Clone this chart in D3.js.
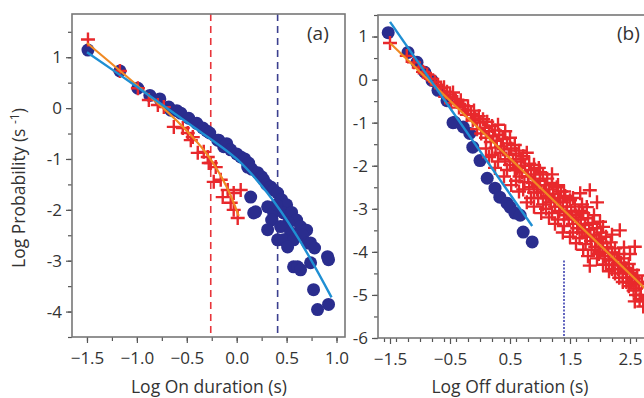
<!DOCTYPE html>
<html>
<head>
<meta charset="utf-8">
<script src="https://cdn.jsdelivr.net/npm/d3@7"></script>
<style>
  body { margin: 0; background: #fff; }
  text { font-family: "Open Sans", sans-serif; fill: #333; }
</style>
</head>
<body>
<div id="chart"></div>
<script>
// ---- panel (a): On durations ----
const onBlue = [
  [-1.49, 1.14], [-1.17, 0.73], [-0.99, 0.39], [-0.87, 0.25], [-0.77, 0.18], [-0.68, 0.02],
  [-0.66, -0.04], [-0.60, -0.05], [-0.56, -0.10], [-0.48, -0.20], [-0.40, -0.30], [-0.34, -0.39],
  [-0.30, -0.45], [-0.27, -0.49], [-0.19, -0.63], [-0.18, -0.63], [-0.13, -0.76], [-0.10, -0.70],
  [-0.06, -0.82], [0.00, -0.90], [0.04, -0.96], [0.08, -1.00], [0.11, -1.16], [0.12, -1.08],
  [0.15, -1.20], [0.21, -1.27], [0.25, -1.35], [0.27, -1.41], [0.30, -1.50], [0.34, -1.55],
  [0.37, -1.61], [0.41, -1.67], [0.45, -1.80], [0.50, -1.90], [0.14, -1.75], [0.17, -2.06],
  [0.19, -2.04], [0.31, -1.94], [0.37, -2.06], [0.47, -2.06], [0.40, -1.90], [0.35, -2.20],
  [0.55, -2.05], [0.60, -2.20], [0.52, -2.25], [0.31, -2.39], [0.44, -2.33], [0.64, -2.33],
  [0.54, -2.45], [0.70, -2.40], [0.41, -2.59], [0.47, -2.59], [0.57, -2.59], [0.66, -2.50],
  [0.71, -2.65], [0.74, -2.65], [0.51, -2.73], [0.78, -2.75], [0.91, -2.92], [0.92, -2.98],
  [0.57, -3.12], [0.61, -3.12], [0.64, -3.18], [0.74, -3.04], [0.77, -3.57], [0.81, -3.96],
  [0.92, -3.86]
];
const onRed = [
  [-1.49, 1.35], [-1.17, 0.73], [-0.99, 0.39], [-0.88, 0.16], [-0.79, 0.06], [-0.73, 0.02],
  [-0.63, -0.37], [-0.54, -0.39], [-0.49, -0.49], [-0.46, -0.63], [-0.44, -0.57], [-0.39, -0.88],
  [-0.33, -0.86], [-0.29, -0.96], [-0.28, -1.08], [-0.26, -1.08], [-0.23, -1.45], [-0.21, -1.16],
  [-0.16, -1.41], [-0.14, -1.75], [-0.09, -1.61], [-0.06, -1.86], [-0.03, -1.67], [-0.03, -2.00],
  [0.04, -1.61], [0.01, -2.16]
];
const onBlueFit = [[-1.50, 1.10], [-1.00, 0.42], [-0.50, -0.28], [0.00, -1.00], [0.30, -1.65], [0.60, -2.50], [0.95, -3.72]];
const onRedFit = [[-1.50, 1.28], [-1.00, 0.45], [-0.60, -0.25], [-0.30, -0.90], [-0.10, -1.55], [0.02, -2.12]];
const onRedCut = -0.26;   // dashed red threshold
const onBlueCut = 0.41;   // dashed blue threshold

// ---- panel (b): Off durations ----
const offBlue = [
  [-1.53, 1.09], [-1.20, 0.63], [-1.05, 0.40], [-0.92, 0.17], [-0.80, -0.02], [-0.70, -0.25],
  [-0.55, -0.49], [-0.45, -1.00], [-0.42, -0.99], [-0.28, -1.10], [-0.17, -1.25], [-0.12, -1.57],
  [0.00, -1.88], [0.12, -2.29], [0.25, -2.52], [0.33, -2.73], [0.45, -2.87], [0.50, -2.96],
  [0.58, -3.10], [0.67, -3.15], [0.72, -3.54], [0.87, -3.77]
];
const offRed = [
  [-1.50, 0.85], [-1.22, 0.55], [-1.10, 0.40], [-1.02, 0.28], [-0.95, 0.18], [-0.88, 0.12],
  [-0.82, 0.02], [-0.75, -0.05], [-0.70, -0.12], [-0.65, -0.20], [-0.60, -0.18], [-0.55, -0.28],
  [-0.50, -0.35], [-0.45, -0.30], [-0.42, -0.45], [-0.38, -0.52], [-0.32, -0.48], [-0.28, -0.60],
  [-0.25, -0.70], [-0.20, -0.62], [-0.15, -0.80], [-0.10, -0.72], [-0.08, -0.90], [-0.02, -0.85],
  [0.00, -1.00], [0.05, -0.92], [0.08, -1.12], [0.12, -0.98], [0.15, -1.20], [0.20, -1.08],
  [0.22, -1.30], [0.25, -1.18], [0.28, -1.42], [0.30, -1.05], [0.32, -1.28], [0.35, -1.55],
  [0.38, -1.38], [0.40, -1.62], [0.42, -1.20], [0.45, -1.48], [0.48, -1.75], [0.50, -1.35],
  [0.52, -1.60], [0.55, -1.90], [0.58, -1.52], [0.60, -1.72], [0.62, -2.05], [0.65, -1.65],
  [0.68, -1.85], [0.70, -2.15], [0.72, -1.78], [0.75, -2.00], [0.78, -1.70], [0.80, -2.25],
  [0.82, -1.95], [0.85, -2.10], [0.88, -2.40], [0.90, -1.98], [0.92, -2.20], [0.95, -2.55],
  [0.98, -2.05], [1.00, -2.35], [1.02, -2.62], [1.05, -2.20], [1.08, -2.45], [1.10, -2.75],
  [1.12, -2.30], [1.15, -2.55], [1.18, -2.85], [1.20, -2.40], [1.22, -2.65], [1.25, -2.95],
  [1.28, -2.50], [1.30, -2.75], [1.32, -3.05], [1.35, -2.60], [1.38, -2.85], [1.40, -3.15],
  [1.42, -2.70], [1.45, -2.95], [1.48, -3.25], [1.50, -2.80], [1.52, -3.05], [1.55, -3.35],
  [1.58, -2.95], [1.60, -3.15], [1.62, -3.45], [1.65, -3.05], [1.68, -3.25], [1.70, -3.55],
  [1.72, -3.10], [1.75, -3.38], [1.78, -3.65], [1.80, -3.22], [1.82, -3.48], [1.85, -3.75],
  [1.88, -3.35], [1.90, -3.60], [1.92, -3.88], [1.95, -3.45], [1.98, -3.70], [2.00, -4.00],
  [2.02, -3.55], [2.05, -3.80], [2.08, -4.10], [2.10, -3.65], [2.12, -3.90], [2.15, -4.20],
  [2.18, -3.78], [2.20, -4.02], [2.22, -4.30], [2.25, -3.92], [2.28, -4.15], [2.30, -4.40],
  [2.32, -4.05], [2.35, -4.25], [2.38, -4.50], [2.40, -4.15], [2.42, -4.38], [2.45, -4.60],
  [2.48, -4.28], [2.50, -4.50], [2.52, -4.72], [2.55, -4.42], [2.58, -4.62], [2.60, -4.85],
  [2.62, -4.55], [2.65, -4.75], [2.68, -5.00], [2.70, -4.70], [2.72, -5.15],
  // fill inside the band
  [-0.58, -0.40], [-0.48, -0.55], [-0.35, -0.65], [-0.22, -0.82], [-0.12, -0.95], [-0.05, -1.15],
  [0.02, -1.25], [0.10, -1.35], [0.18, -1.45], [0.26, -1.58], [0.34, -1.70], [0.42, -1.85],
  [0.50, -1.98], [0.58, -2.10], [0.66, -2.25], [0.74, -2.38], [0.82, -2.50], [0.90, -2.62],
  [0.97, -2.75], [1.05, -2.90], [0.10, -1.60], [0.20, -1.75], [0.30, -1.90], [0.45, -2.10],
  [0.60, -2.35], [0.72, -2.55], [0.85, -2.75], [0.96, -2.45], [1.06, -2.60], [1.14, -2.70],
  [1.24, -2.80], [1.34, -2.95], [1.44, -3.08], [1.54, -3.20], [1.64, -3.35], [1.74, -3.48],
  [1.84, -3.62], [1.94, -3.75], [2.04, -3.90], [2.14, -4.02], [2.24, -4.18], [2.34, -4.32],
  [2.44, -4.45], [2.54, -4.58], [2.64, -4.70], [1.10, -3.00], [1.20, -3.10], [1.30, -3.25],
  [1.40, -3.40], [1.55, -3.55], [1.66, -3.68], [1.76, -3.82], [1.86, -3.95], [1.98, -4.05],
  [2.10, -4.30], [2.20, -4.40], [2.32, -4.60], [2.44, -4.70], [2.56, -4.90], [2.66, -5.10],
  [0.90, -2.30], [1.00, -2.15], [1.10, -2.45], [1.30, -2.45], [1.40, -2.60], [1.55, -2.75],
  [1.70, -2.90], [1.90, -3.15], [2.00, -3.30], [2.20, -3.60], [2.40, -3.90], [2.50, -4.05],
  // outliers above the band
  [1.20, -2.20], [1.67, -2.64], [1.83, -2.57], [1.95, -2.85], [1.78, -2.96], [1.88, -3.33],
  [2.05, -3.42], [2.33, -3.50], [2.58, -3.88],
  // lower edge of the band
  [0.15, -1.80], [0.25, -2.05], [0.40, -2.25], [0.52, -2.45], [0.65, -2.60], [0.78, -2.85],
  [0.90, -2.95], [1.02, -3.10], [1.15, -3.20], [1.25, -3.35], [1.38, -3.55], [1.50, -3.65],
  [1.60, -3.80], [1.72, -3.95], [1.80, -4.10], [1.83, -4.32], [1.95, -4.15], [2.05, -4.30],
  [2.15, -4.45], [2.25, -4.50], [2.38, -4.70], [2.48, -4.80], [2.60, -5.00], [2.58, -5.15],
  [2.72, -5.27]
];
const offBlueFit = [[-1.50, 1.34], [0.87, -3.40]];
const offRedFit = [[-1.50, 0.85], [2.75, -4.85]];
const offBlueCut = { x: 1.40, y0: -6, y1: -4.2 };

const panels = [
  {
    id: 'a', left: 72, right: 345, top: 14, bottom: 337,
    xDomain: [-1.65, 1.085], yDomain: [-4.5, 1.85],
    xMajor: [-1.5, -1.0, -0.5, 0.0, 0.5, 1.0], xMinorStep: 0.25, xFmt: d3.format('.1f'),
    yMajor: [-4, -3, -2, -1, 0, 1], yMinorStep: 0.5,
    xTitle: 'Log On duration (s)', xTitleX: 209,
    blue: onBlue, red: onRed, blueFit: onBlueFit, redFit: onRedFit, curve: d3.curveCatmullRom
  },
  {
    id: 'b', left: 378, right: 645, top: 15, bottom: 338,
    xDomain: [-1.7, 2.75], yDomain: [-6, 1.5],
    xMajor: [-1.5, -0.5, 0.5, 1.5, 2.5], xMinorStep: 0.2, xFmt: d3.format('.1f'),
    yMajor: [-6, -5, -4, -3, -2, -1, 0, 1], yMinorStep: 0.5,
    xTitle: 'Log Off duration (s)', xTitleX: 510,
    blue: offBlue, red: offRed, blueFit: offBlueFit, redFit: offRedFit, curve: d3.curveLinear
  }
];

const svg = d3.select('#chart').append('svg')
  .attr('width', 644).attr('height', 398);

function steps(lo, hi, step) {
  const out = [];
  for (let v = Math.ceil(lo / step - 1e-9) * step; v <= hi + 1e-9; v += step) out.push(+v.toFixed(4));
  return out;
}

const crossPath = 'M-7,0H7M0,-7V7';

panels.forEach(p => {
  const x = d3.scaleLinear().domain(p.xDomain).range([p.left, p.right]);
  const y = d3.scaleLinear().domain(p.yDomain).range([p.bottom, p.top]);
  const g = svg.append('g');

  const clipId = 'clip-' + p.id;
  svg.append('clipPath').attr('id', clipId).append('rect')
    .attr('x', p.left).attr('y', p.top)
    .attr('width', p.right - p.left).attr('height', p.bottom - p.top);

  // minor ticks
  const xMinor = g.append('g').attr('transform', 'translate(0,' + p.bottom + ')')
    .call(d3.axisBottom(x).tickValues(steps(p.xDomain[0], p.xDomain[1], p.xMinorStep)).tickSize(4).tickFormat(''));
  const yMinor = g.append('g').attr('transform', 'translate(' + p.left + ',0)')
    .call(d3.axisLeft(y).tickValues(steps(p.yDomain[0], p.yDomain[1], p.yMinorStep)).tickSize(4).tickFormat(''));

  // major ticks with labels
  const xAx = g.append('g').attr('transform', 'translate(0,' + p.bottom + ')')
    .call(d3.axisBottom(x).tickValues(p.xMajor).tickSize(6).tickPadding(9).tickFormat(p.xFmt));
  const yAx = g.append('g').attr('transform', 'translate(' + p.left + ',0)')
    .call(d3.axisLeft(y).tickValues(p.yMajor).tickSize(6).tickPadding(4).tickFormat(d => d));

  [xMinor, yMinor, xAx, yAx].forEach(a => {
    a.select('.domain').remove();
    a.selectAll('line').attr('stroke', '#555').attr('stroke-width', 1.2);
    a.selectAll('text').style('font-size', '17px').attr('fill', '#333')
      .style('font-family', '"Open Sans", sans-serif');
  });

  const plot = g.append('g').attr('clip-path', 'url(#' + clipId + ')');

  // threshold lines
  if (p.id === 'a') {
    [[onRedCut, '#e8343a'], [onBlueCut, '#3b3f8f']].forEach(([v, c]) => {
      plot.append('line')
        .attr('x1', x(v)).attr('x2', x(v))
        .attr('y1', p.top).attr('y2', p.bottom)
        .attr('stroke', c).attr('stroke-width', 1.6).attr('stroke-dasharray', '7,5');
    });
  } else {
    plot.append('line')
      .attr('x1', x(offBlueCut.x)).attr('x2', x(offBlueCut.x))
      .attr('y1', y(offBlueCut.y1)).attr('y2', y(offBlueCut.y0))
      .attr('stroke', '#3b3fb0').attr('stroke-width', 1.6).attr('stroke-dasharray', '2,1.5');
  }

  plot.selectAll('circle.blue').data(p.blue).join('circle')
    .attr('class', 'blue')
    .attr('cx', d => x(d[0])).attr('cy', d => y(d[1]))
    .attr('r', 6.5).attr('fill', '#2a2d8e');

  plot.selectAll('path.red').data(p.red).join('path')
    .attr('class', 'red')
    .attr('d', crossPath)
    .attr('transform', d => 'translate(' + x(d[0]) + ',' + y(d[1]) + ')')
    .attr('stroke', '#e8282c').attr('stroke-width', 2.4).attr('fill', 'none');

  const line = d3.line().x(d => x(d[0])).y(d => y(d[1])).curve(p.curve);
  plot.append('path').datum(p.redFit)
    .attr('d', line).attr('fill', 'none').attr('stroke', '#f08a24').attr('stroke-width', 2.2);
  plot.append('path').datum(p.blueFit)
    .attr('d', line).attr('fill', 'none').attr('stroke', '#1f8fd3').attr('stroke-width', 2.4);

  // frame
  g.append('rect')
    .attr('x', p.left).attr('y', p.top)
    .attr('width', p.right - p.left).attr('height', p.bottom - p.top)
    .attr('fill', 'none').attr('stroke', '#777').attr('stroke-width', 1.6);

  g.append('text')
    .attr('x', p.left + (p.id === 'a' ? 235 : 239)).attr('y', 40)
    .style('font-size', '19px').text('(' + p.id + ')');

  g.append('text')
    .attr('x', p.xTitleX).attr('y', 393)
    .attr('text-anchor', 'middle')
    .style('font-size', '17.5px').text(p.xTitle);
});

// y-axis title
const yt = svg.append('text')
  .attr('transform', 'translate(25,188) rotate(-90)')
  .attr('text-anchor', 'middle')
  .style('font-size', '17.5px');
yt.append('tspan').text('Log Probability (s ');
yt.append('tspan').attr('dy', -6).style('font-size', '12px').text('-1');
yt.append('tspan').attr('dy', 6).text(')');
</script>
</body>
</html>
